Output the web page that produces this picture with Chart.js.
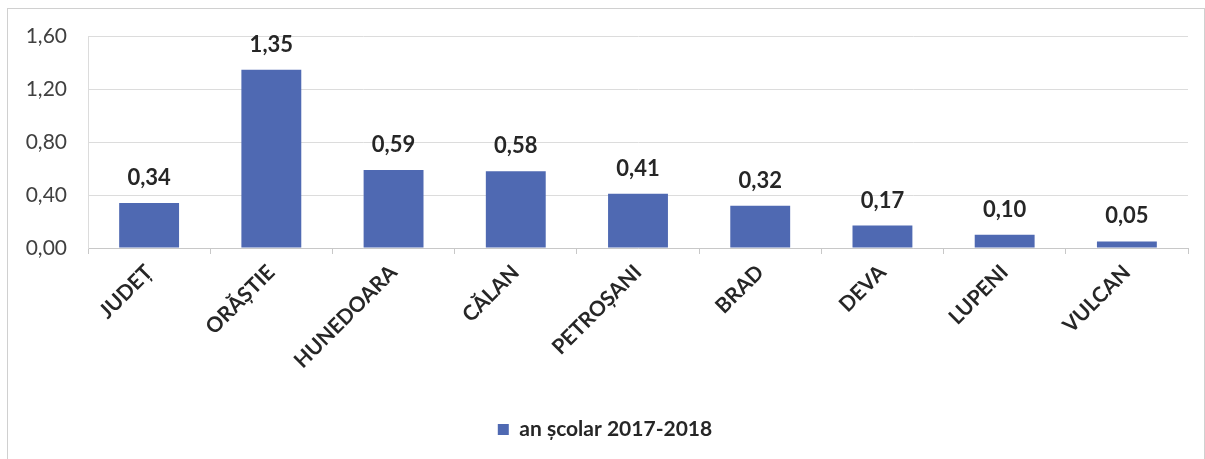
<!DOCTYPE html>
<html>
<head>
<meta charset="utf-8">
<script src="https://cdn.jsdelivr.net/npm/chart.js@4"></script>
<style>
  body { margin: 0; background: #fff; }
  #frame { position: absolute; left: 7px; top: 8px; width: 1196px; height: 460px; border: 1px solid #d0d0d0; overflow: hidden; }
  canvas { display: block; position: relative; top: -6px; }
</style>
</head>
<body>
<div id="frame"><canvas id="chart" width="1196" height="457"></canvas></div>
<script>
const categories = ['JUDEȚ', 'ORĂȘTIE', 'HUNEDOARA', 'CĂLAN', 'PETROȘANI', 'BRAD', 'DEVA', 'LUPENI', 'VULCAN'];
const seriesName = 'an școlar 2017-2018';
const values = [0.34, 1.35, 0.59, 0.58, 0.41, 0.32, 0.17, 0.10, 0.05];
const yTicks = [0, 0.4, 0.8, 1.2, 1.6];

const fmt = v => v.toFixed(2).replace('.', ',');

// etichete cu valori deasupra barelor
const valueLabels = {
  id: 'valueLabels',
  afterDatasetsDraw(chart) {
    const ctx = chart.ctx;
    ctx.save();
    ctx.font = 'bold 22px Lato';
    ctx.fillStyle = '#262626';
    ctx.textAlign = 'center';
    ctx.textBaseline = 'middle';
    chart.getDatasetMeta(0).data.forEach((bar, i) => {
      ctx.fillText(fmt(values[i]), bar.x, bar.y - 25);
    });
    ctx.restore();
  }
};

new Chart(document.getElementById('chart'), {
  type: 'bar',
  data: {
    labels: categories,
    datasets: [{
      label: seriesName,
      data: values,
      backgroundColor: '#4f69b2',
      barPercentage: 0.49,
      categoryPercentage: 1
    }]
  },
  options: {
    responsive: false,
    animation: false,
    devicePixelRatio: 1,
    layout: { padding: { left: 14, right: 16, top: 14, bottom: 10 } },
    plugins: {
      tooltip: { enabled: false },
      legend: {
        position: 'bottom',
        labels: {
          boxWidth: 11, boxHeight: 11, padding: 10,
          color: '#262626',
          font: { family: 'Lato', size: 21, weight: 'bold' }
        }
      }
    },
    scales: {
      x: {
        afterFit: a => { a.height = 161; },
        grid: { drawOnChartArea: false, color: '#c8c8c8', tickLength: 6 },
        border: { color: '#c8c8c8' },
        ticks: {
          minRotation: 45, maxRotation: 45, padding: 6,
          color: '#262626',
          font: { family: 'Lato', size: 21, weight: 'bold' }
        }
      },
      y: {
        min: 0, max: 1.6,
        afterBuildTicks: a => { a.ticks = yTicks.map(v => ({ value: v })); },
        afterFit: a => { a.width = 66; },
        grid: { color: '#dcdcdc', drawTicks: false },
        border: { color: '#dcdcdc' },
        ticks: {
          padding: 21,
          color: '#404040',
          font: { family: 'Lato', size: 21 },
          callback: v => fmt(v)
        }
      }
    }
  },
  plugins: [valueLabels]
});
</script>
</body>
</html>
